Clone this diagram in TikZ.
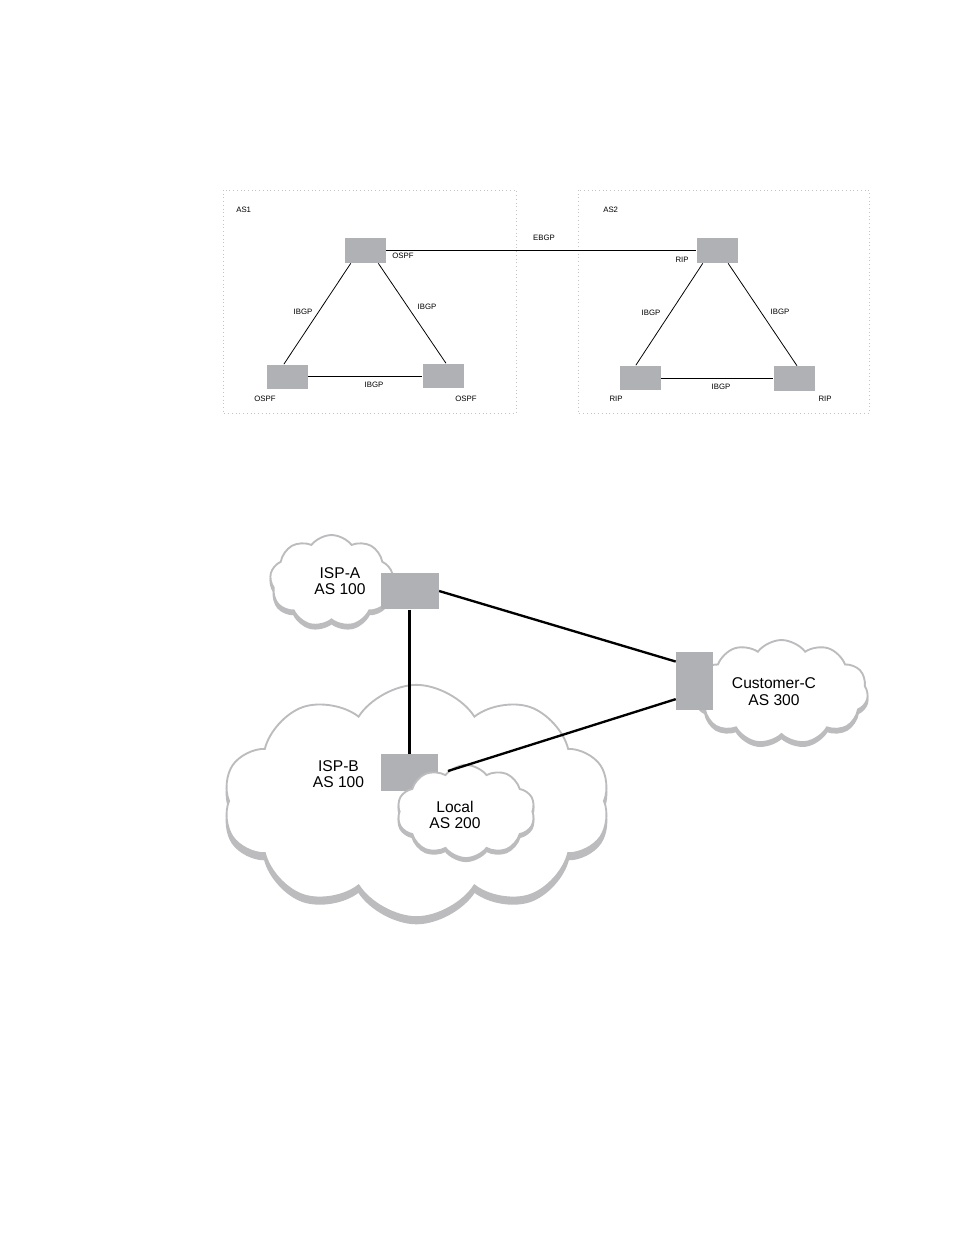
\documentclass[tikz,border=0pt]{standalone}
\usepackage{fontspec}
\setmainfont{Liberation Sans}
\usepackage{tikz}
\usetikzlibrary{
	shapes.symbols,
	shadows,
	positioning
}
\definecolor{routergray}{RGB}{176,177,180}
\definecolor{cloudgray}{RGB}{188,188,190}
\definecolor{boxgray}{RGB}{195,195,195}

\begin{document}
\begin{tikzpicture}[x=0.6415pt, y=-0.6415pt,
				router/.style={
					rectangle, draw=none, fill=routergray, inner sep=0pt,
					minimum width=26.3pt, minimum height=16pt
				},
				bigrouter/.style={
					router, minimum width=37pt, minimum height=23.5pt
				},
				tallrouter/.style={
					router, minimum width=23.7pt, minimum height=37.2pt
				},
				tiny/.style={font=\fontsize{5}{6}\selectfont, inner sep=0pt},
				astext/.style={font=\fontsize{10}{10.5}\selectfont, align=center, inner sep=0pt},
				asbox/.style={draw=boxgray, dotted, line width=0.4pt},
				link/.style={line width=0.5pt},
				thicklink/.style={line width=1.5pt},
				net/.style={
					cloud, cloud ignores aspect, cloud puff arc=105,
					draw=cloudgray, line width=1.2pt, fill=white, inner sep=0pt,
					copy shadow={shadow xshift=0pt, shadow yshift=-#1, fill=cloudgray, draw=cloudgray}
				},
				net/.default=2.5pt,
				]
				\useasboundingbox (0,0) rectangle (954,1235);
				
				%first set: AS1
				\draw[asbox] (223,190) rectangle (516,413);
				\node[tiny, anchor=west] (as1) at (236,210) {AS1};
				\node[router] (ospfa) at (365.5,250.5) {};
				\node[router] (ospfb) at (287.5,377) {};
				\node[router] (ospfc) at (443,376) {};
				\node[tiny] (ospfalbl) at (403,256) {OSPF};
				\node[tiny] (ospfblbl) at (265,399) {OSPF};
				\node[tiny] (ospfclbl) at (466,399) {OSPF};
				\draw[link] (ospfa.221) -- (ospfb.106);
				\draw[link] (ospfa.315) -- (ospfc.77);
				\draw[link] (ospfb.east |- ospfc.west) -- (ospfc.west);
				\node[tiny] (ibgpab) at (303,312) {IBGP};
				\node[tiny] (ibgpac) at (427,307) {IBGP};
				\node[tiny] (ibgpbc) at (374,385) {IBGP};
				
				%2. set: AS2
				\draw[asbox] (578,190) rectangle (869,413);
				\node[tiny, anchor=west] (as2) at (603,210) {AS2};
				\node[router] (ripa) at (717,250.5) {};
				\node[router] (ripb) at (640,378) {};
				\node[router] (ripc) at (794,378.5) {};
				\node[tiny] (ripalbl) at (682,260) {RIP};
				\node[tiny] (ripblbl) at (616,399) {RIP};
				\node[tiny] (ripclbl) at (825,399) {RIP};
				\draw[link] (ripa.222) -- (ripb.108);
				\draw[link] (ripa.311) -- (ripc.77);
				\draw[link] (ripb.east) -- (ripb.east -| ripc.west);
				\node[tiny] (ibgpde) at (651,313) {IBGP};
				\node[tiny] (ibgpdf) at (780,312) {IBGP};
				\node[tiny] (ibgpef) at (721,387) {IBGP};
				
				%EBGP between AS1 and AS2
				\draw[link] (ospfa.east) -- (ospfa.east -| ripa.west);
				\node[tiny] (ebgp) at (544,238) {EBGP};
				
				%3. set: clouds
				\node[net=4pt, cloud puffs=10, cloud puff arc=115, minimum width=248pt, minimum height=149pt] (ispb) at (416.5,801) {};
				\node[net, cloud puffs=9, minimum width=79pt, minimum height=59pt] (ispa) at (331.5,581) {};
				\node[net, cloud puffs=11, minimum width=111pt, minimum height=66.7pt] (custc) at (781.5,692) {};
				
				%4. set: routers and links
				\node[bigrouter] (rtra) at (410,591) {};
				\node[bigrouter] (rtrb) at (409.5,772.5) {};
				\node[tallrouter] (rtrc) at (694.5,681) {};
				\node[net=2pt, cloud puffs=10, minimum width=88.5pt, minimum height=59.7pt] (local) at (466,811.5) {};
				\draw[thicklink] (rtra.east) -- (rtrc.134);
				\draw[thicklink] (rtrb.north |- rtra.south) -- (rtrb.north);
				\draw[thicklink] (local.114) -- (rtrc.224);
				
				%5. set: texts
				\node[astext] (ispatxt) at (340,581) {ISP-A\\AS 100};
				\node[astext] (ispbtxt) at (338.5,774) {ISP-B\\AS 100};
				\node[astext] (localtxt) at (455,815) {Local\\AS 200};
				\node[astext] (custtxt) at (774,691.5) {Customer-C\\AS 300};
\end{tikzpicture}
\end{document}
